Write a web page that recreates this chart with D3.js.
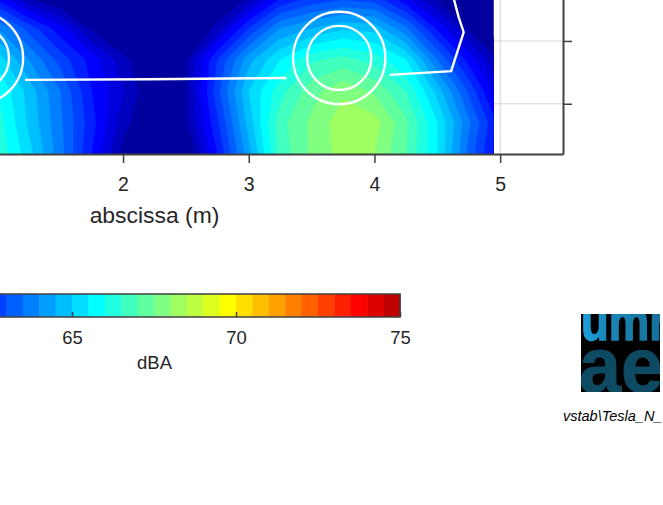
<!DOCTYPE html>
<html>
<head>
<meta charset="utf-8">
<script src="https://cdn.jsdelivr.net/npm/d3@7"></script>
<style>
	html, body { margin: 0; padding: 0; background: #fff; overflow: hidden; }
	svg { display: block; }
	text { font-family: "Liberation Sans", Arial, sans-serif; fill: #262626; }
</style>
</head>
<body>
<svg id="chart" width="663" height="505"></svg>
<script>
// grid of the noise map, metres and dBA
const gridX = [1, 1.25, 1.5, 1.75, 2, 2.25, 2.5, 2.75, 3, 3.25, 3.5, 3.75, 4, 4.25, 4.5, 4.75, 5];
const gridY = [1.85, 1.6, 1.35, 1.1, 0.85, 0.6];
const row185 = [61.8, 60.4, 59.8, 59, 58.5, 58.5, 59, 59.7, 60.5, 61.9, 62.5, 62.8, 62.6, 61.5, 60.3, 59.5, 59];
const row160 = [64, 62.8, 61.7, 60.4, 59.5, 59, 59.5, 60.7, 62.5, 64, 64.5, 64.9, 64.8, 63.6, 61.9, 60.4, 59.6];
const row135 = [65.3, 64, 62.8, 61.8, 60.7, 59.8, 60.4, 62.5, 64.3, 65.5, 66.4, 66.7, 66.3, 65.5, 63.5, 61.8, 60.4];
const row110 = [66, 64.8, 63.5, 62, 61, 60, 60.4, 62.8, 65, 66.3, 67.3, 67.9, 67.4, 66.5, 64.8, 62.9, 61];
const row085 = [66.3, 64.9, 63.6, 62.2, 60.7, 59.8, 60.4, 62.4, 64.7, 66.8, 67.6, 68.3, 68.2, 67.1, 65.5, 63.6, 61.8];
const row060 = [66.4, 65.2, 63.7, 62, 60.3, 59.5, 59.8, 62, 64.3, 66.7, 67.6, 68.2, 68, 67, 65.5, 63.3, 61.6];

// colour bar bands, half a dBA each
const levels = [60, 60.5, 61, 61.5, 62, 62.5, 63, 63.5, 64, 64.5, 65, 65.5, 66, 66.5, 67, 67.5,
	68, 68.5, 69, 69.5, 70, 70.5, 71, 71.5, 72, 72.5, 73, 73.5, 74, 74.5];
const bandColors = ["#00009f", "#0000bf", "#0000df", "#0000ff", "#0020ff", "#0040ff", "#0060ff", "#0080ff",
	"#009fff", "#00bfff", "#00dfff", "#00ffff", "#20ffdf", "#40ffbf", "#60ff9f", "#80ff80",
	"#9fff60", "#bfff40", "#dfff20", "#ffff00", "#ffdf00", "#ffbf00", "#ff9f00", "#ff8000",
	"#ff6000", "#ff4000", "#ff2000", "#ff0000", "#df0000", "#bf0000"];

const xTicks = [2, 3, 4, 5];
const yTicks = [1, 1.5];
const barTicks = [65, 70, 75];

// wheels and car outline, metres
const wheelX = [0.838, 3.72];
const wheelY = 1.365;
const wheelRadii = [0.367, 0.255];
const outlineLeft = [[1.22, 1.19], [2.2, 1.195], [3.3, 1.205]];
const outlineRight = [[4.12, 1.23], [4.61, 1.26], [4.71, 1.57], [4.67, 1.69], [4.63, 1.84]];

const axisColor = "#404040";

const svg = d3.select("#chart");
const x_scale = d3.scaleLinear().domain([1, 5.5]).range([-2.67, 563]);
const y_scale = d3.scaleLinear().domain([0.6, 1.85]).range([154, -3]);

// gridlines sit under the map and only show in the white strip
svg.append("g").selectAll("line.h").data(yTicks).enter().append("line")
	.attr("x1", 0).attr("x2", 563)
	.attr("y1", d => y_scale(d)).attr("y2", d => y_scale(d))
	.attr("stroke", "#d4d4d4");
svg.append("line")
	.attr("x1", x_scale(5)).attr("x2", x_scale(5))
	.attr("y1", 0).attr("y2", 154)
	.attr("stroke", "#d4d4d4");

// clip of the map
const defs = svg.append("defs");
defs.append("clipPath").attr("id", "map-clip").append("rect")
	.attr("x", 0).attr("y", 0)
	.attr("width", x_scale(4.95)).attr("height", 154);
defs.append("clipPath").attr("id", "logo-clip").append("rect")
	.attr("x", 581).attr("y", 314).attr("width", 79).attr("height", 78);
const logoGrad = defs.append("linearGradient").attr("id", "logo-grad");
logoGrad.append("stop").attr("offset", "0").attr("stop-color", "#1aa3e0");
logoGrad.append("stop").attr("offset", "0.3").attr("stop-color", "#1a86b8");
logoGrad.append("stop").attr("offset", "1").attr("stop-color", "#166f97");

const map = svg.append("g").attr("clip-path", "url(#map-clip)");

// values under the first level stay in the darkest band
map.append("rect")
	.attr("x", 0).attr("y", 0)
	.attr("width", x_scale(4.95)).attr("height", 154)
	.attr("fill", bandColors[0]);

const values = [row185, row160, row135, row110, row085, row060].flat();
const contours = d3.contours()
	.size([gridX.length, gridY.length])
	.smooth(true)
	.thresholds(levels)(values);

const dx = gridX[1] - gridX[0];
const dy = gridY[1] - gridY[0];
const projection = d3.geoTransform({
	point: function (cx, cy) {
		this.stream.point(
			x_scale(gridX[0] + (cx - 0.5) * dx),
			y_scale(gridY[0] + (cy - 0.5) * dy)
		);
	}
});
const path = d3.geoPath(projection);

map.selectAll("path.band").data(contours).enter().append("path")
	.attr("class", "band")
	.attr("d", path)
	.attr("fill", (d, i) => bandColors[i])
	.attr("stroke", (d, i) => bandColors[i])
	.attr("stroke-width", 0.4);

// wheels and outline in white
const pxPerMetre = x_scale(2) - x_scale(1);
wheelX.forEach(wx => {
	wheelRadii.forEach(r => {
		map.append("circle")
			.attr("cx", x_scale(wx)).attr("cy", y_scale(wheelY))
			.attr("r", r * pxPerMetre)
			.attr("fill", "none")
			.attr("stroke", "#fff")
			.attr("stroke-width", 2.4);
	});
});
const outline = d3.line().x(d => x_scale(d[0])).y(d => y_scale(d[1]));
[outlineLeft, outlineRight].forEach(seg => {
	map.append("path")
		.attr("d", outline(seg))
		.attr("fill", "none")
		.attr("stroke", "#fff")
		.attr("stroke-width", 2.4);
});

// axes
function styleAxis(g) {
	g.selectAll("path, line").attr("stroke", axisColor).attr("stroke-width", 1.5);
	g.select(".domain").attr("stroke-width", 2);
	g.selectAll("text").attr("font-family", "Liberation Sans").attr("fill", "#262626");
}

svg.append("g")
	.attr("transform", "translate(0,154)")
	.call(d3.axisBottom(x_scale).tickValues(xTicks).tickSize(9).tickSizeOuter(0).tickPadding(14).tickFormat(d3.format("d")))
	.call(styleAxis)
	.call(g => g.selectAll("text").attr("font-size", 19.5));

svg.append("g")
	.attr("transform", "translate(563,0)")
	.call(d3.axisRight(y_scale).tickValues(yTicks).tickSize(9).tickSizeOuter(0).tickFormat(""))
	.call(styleAxis);

svg.append("text")
	.attr("x", 154.5).attr("y", 223)
	.attr("text-anchor", "middle")
	.attr("font-size", 22.9)
	.text("abscissa (m)");

// colour bar, its low end runs off the page
const bar_scale = d3.scaleLinear().domain([60, 75]).range([-92, 400]);
const bar = svg.append("g");
bar.selectAll("rect").data(levels).enter().append("rect")
	.attr("x", d => bar_scale(d))
	.attr("y", 294)
	.attr("width", d => bar_scale(d + 0.5) - bar_scale(d) + 0.5)
	.attr("height", 23)
	.attr("fill", (d, i) => bandColors[i]);
bar.append("rect")
	.attr("x", bar_scale(60)).attr("y", 294)
	.attr("width", bar_scale(75) - bar_scale(60)).attr("height", 23)
	.attr("fill", "none")
	.attr("stroke", axisColor)
	.attr("stroke-width", 1.5);

svg.append("g")
	.attr("transform", "translate(0,317)")
	.call(d3.axisBottom(bar_scale).tickValues(barTicks).tickSize(-5).tickSizeOuter(0).tickPadding(14).tickFormat(d3.format("d")))
	.call(styleAxis)
	.call(g => g.select(".domain").remove())
	.call(g => g.selectAll("text").attr("font-size", 18.5));

svg.append("text")
	.attr("x", 154.5).attr("y", 369)
	.attr("text-anchor", "middle")
	.attr("font-size", 18.5)
	.text("dBA");

// lab logo, cropped like in the original
const logo = svg.append("g").attr("clip-path", "url(#logo-clip)");
logo.append("rect")
	.attr("x", 581).attr("y", 314).attr("width", 79).attr("height", 78)
	.attr("fill", "#000");
logo.append("text")
	.attr("x", 581).attr("y", 340)
	.attr("font-size", 56).attr("font-weight", "bold")
	.attr("textLength", 86).attr("lengthAdjust", "spacingAndGlyphs")
	.style("fill", "url(#logo-grad)")
	.style("stroke", "url(#logo-grad)")
	.style("stroke-width", 1.5)
	.text("umr");
logo.append("text")
	.attr("x", 579).attr("y", 392)
	.attr("font-size", 78).attr("font-weight", "bold")
	.attr("textLength", 84).attr("lengthAdjust", "spacingAndGlyphs")
	.style("fill", "#0f4a63")
	.style("stroke", "#0f4a63")
	.style("stroke-width", 1)
	.text("ae");

svg.append("text")
	.attr("x", 563).attr("y", 421)
	.attr("font-size", 14.5)
	.attr("font-style", "italic")
	.style("fill", "#000")
	.text("vstab\\Tesla_N_");
</script>
</body>
</html>
